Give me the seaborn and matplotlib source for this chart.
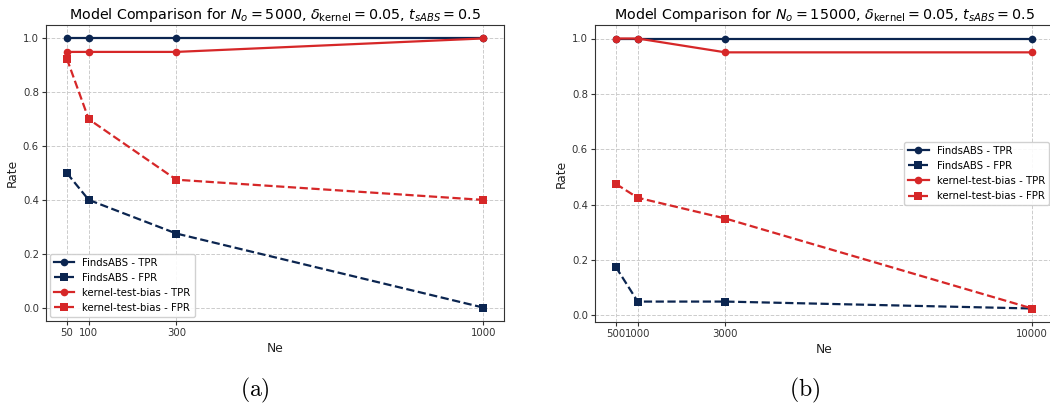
import matplotlib
matplotlib.use("Agg")
import matplotlib.pyplot as plt
import seaborn as sns

# panel (a): N_o = 5000
ne_a = [50, 100, 300, 1000]
finds_tpr_a = [1.0, 1.0, 1.0, 1.0]
finds_fpr_a = [0.5, 0.4, 0.275, 0.0]
kernel_tpr_a = [0.95, 0.95, 0.95, 1.0]
kernel_fpr_a = [0.925, 0.7, 0.475, 0.4]

# panel (b): N_o = 15000
ne_b = [500, 1000, 3000, 10000]
finds_tpr_b = [1.0, 1.0, 1.0, 1.0]
finds_fpr_b = [0.175, 0.05, 0.05, 0.025]
kernel_tpr_b = [1.0, 1.0, 0.95, 0.95]
kernel_fpr_b = [0.475, 0.425, 0.35, 0.025]

NAVY = "#0b2550"
RED = "#d62728"

plt.rcParams['font.family'] = ['DejaVu Sans']

fig = plt.figure(figsize=(10.5, 4.05), dpi=100)
ax_a = fig.add_axes([46/1050, 1-321/405, 458/1050, 296/405])
ax_b = fig.add_axes([595/1050, 1-322/405, 458/1050, 297/405])


def draw(ax, ne, ftpr, ffpr, ktpr, kfpr, no, legloc):
    kw = dict(ax=ax, markersize=5.5, linewidth=1.6, markeredgewidth=0)
    sns.lineplot(x=ne, y=ftpr, color=NAVY, marker='o', label='FindsABS - TPR', **kw)
    sns.lineplot(x=ne, y=ffpr, color=NAVY, marker='s', linestyle='--', label='FindsABS - FPR', **kw)
    sns.lineplot(x=ne, y=ktpr, color=RED, marker='o', label='kernel-test-bias - TPR', **kw)
    sns.lineplot(x=ne, y=kfpr, color=RED, marker='s', linestyle='--', label='kernel-test-bias - FPR', **kw)
    ax.set_xticks(ne)
    ax.set_xticklabels([str(v) for v in ne])
    ax.set_yticks([0.0, 0.2, 0.4, 0.6, 0.8, 1.0])
    ax.tick_params(labelsize=7.3, colors='#333333', length=2.6, pad=2.5)
    ax.grid(True, linestyle='--', color='#cccccc', linewidth=0.7)
    ax.set_axisbelow(True)
    for s in ax.spines.values():
        s.set_color('#333333')
    ax.set_xlabel('Ne', fontsize=8.8, color='#222222', labelpad=3)
    ax.set_ylabel('Rate', fontsize=8.8, color='#222222', labelpad=3)
    ax.set_title(r'Model Comparison for $N_o = %d$, $\delta_{\mathrm{kernel}} = 0.05$, $t_{sABS} = 0.5$' % no,
                 fontsize=10.3, pad=4)
    ax.legend(loc=legloc, fontsize=7.3, framealpha=0.9, borderaxespad=0.4)


draw(ax_a, ne_a, finds_tpr_a, finds_fpr_a, kernel_tpr_a, kernel_fpr_a, 5000, 'lower left')
draw(ax_b, ne_b, finds_tpr_b, finds_fpr_b, kernel_tpr_b, kernel_fpr_b, 15000, 'center right')

fig.text(255/1050, 1-390/405, r'$\mathrm{(a)}$', fontsize=17, ha='center', va='center',
         math_fontfamily='cm')
fig.text(805/1050, 1-390/405, r'$\mathrm{(b)}$', fontsize=17, ha='center', va='center',
         math_fontfamily='cm')

fig.savefig('out.png', dpi=100)
